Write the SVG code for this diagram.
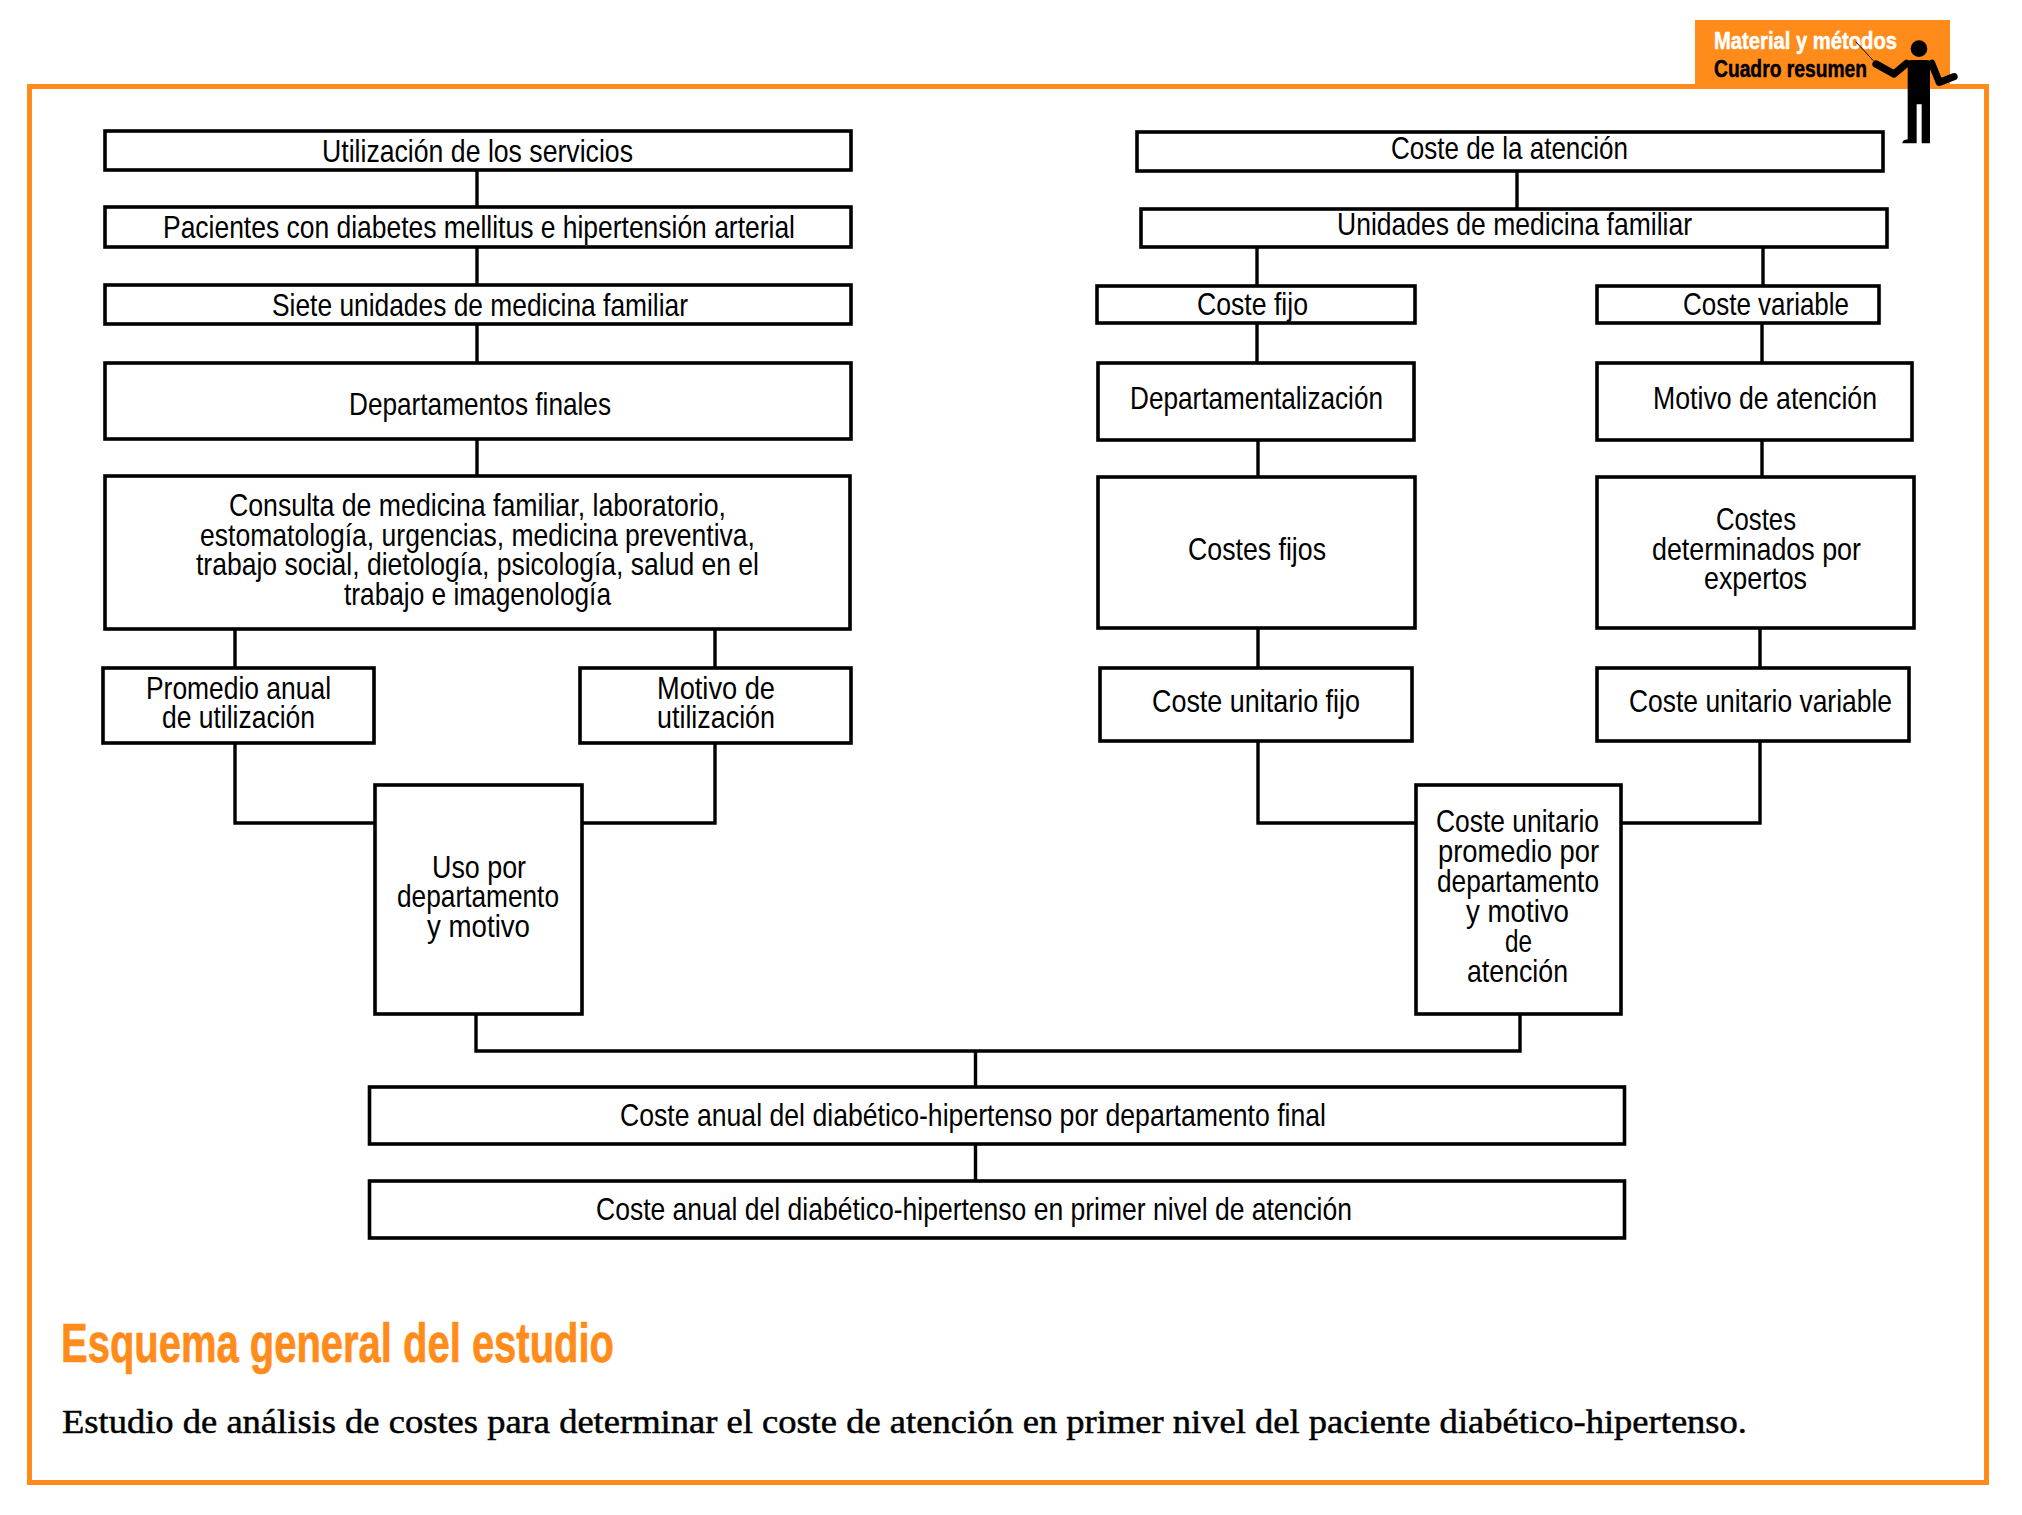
<svg xmlns="http://www.w3.org/2000/svg" width="2022" height="1515" viewBox="0 0 2022 1515">
<style>
.b{fill:#fff;stroke:#000;stroke-width:3.6}
.c{fill:none;stroke:#000;stroke-width:3.4}
.t{font-family:"Liberation Sans Narrow","Liberation Sans",Arial,sans-serif;font-size:31.5px;fill:#000;transform:translateY(1px)}
.h{font-family:"Liberation Sans Narrow","Liberation Sans",Arial,sans-serif;font-weight:bold;font-size:24px;stroke-width:.5px}
</style>
<rect width="2022" height="1515" fill="#fff"/>
<g id="banner"><rect x="1695" y="20" width="255" height="68" fill="#ff8c1a"/>
<text class="h" x="1714" y="49" textLength="183" lengthAdjust="spacingAndGlyphs" fill="#fff" stroke="#fff">Material y métodos</text>
<text class="h" x="1714" y="77" textLength="153" lengthAdjust="spacingAndGlyphs" fill="#000" stroke="#000">Cuadro resumen</text></g>
<rect id="frame" x="29.5" y="86.5" width="1957" height="1396" fill="none" stroke="#ff8c1a" stroke-width="5"/>
<g id="figure" transform="translate(1650 0) scale(.33333)">
<circle cx="807" cy="146" r="25"/>
<path d="M617 125L670 182" stroke="#000" stroke-width="3" fill="none"/>
<path d="M678 192L732 222L770 190" stroke="#000" stroke-width="22" stroke-linecap="round" stroke-linejoin="round" fill="none"/>
<path d="M845 190L868 247L912 230" stroke="#000" stroke-width="22" stroke-linecap="round" stroke-linejoin="round" fill="none"/>
<path d="M773 190Q773 180 785 180H830Q840 180 840 190V430H815V313H800V430H757Q757 419 773 418Z"/>
</g>
<g id="connectors">
<path class="c" d="M477 171V206M477 248V284M477 325V362M477 440V475M235 630V667M715 630V667M235 744V823H375M715 744V823H582M476 1015V1051H1520V1015M975.5 1051V1086M975.5 1145V1180"/>
<path class="c" d="M1517 172V208M1257 248V285M1763 248V285M1257 324V362M1762 324V362M1258 441V476M1762 441V476M1258 629V667M1760 629V667M1258 742V823H1415M1760 742V823H1622"/>
</g>
<g id="n1"><rect class="b" x="105" y="131" width="746" height="39"/><text class="t" x="322" y="161" textLength="311" lengthAdjust="spacingAndGlyphs">Utilización de los servicios</text></g>
<g id="n2"><rect class="b" x="105" y="207" width="746" height="40"/><text class="t" x="163" y="237" textLength="632" lengthAdjust="spacingAndGlyphs">Pacientes con diabetes mellitus e hipertensión arterial</text></g>
<g id="n3"><rect class="b" x="105" y="285" width="746" height="39"/><text class="t" x="272" y="315" textLength="416" lengthAdjust="spacingAndGlyphs">Siete unidades de medicina familiar</text></g>
<g id="n4"><rect class="b" x="105" y="363" width="746" height="76"/><text class="t" x="349" y="414" textLength="262" lengthAdjust="spacingAndGlyphs">Departamentos finales</text></g>
<g id="n5"><rect class="b" x="105" y="476" width="745" height="153"/>
<text class="t" x="229" y="515" textLength="497" lengthAdjust="spacingAndGlyphs">Consulta de medicina familiar, laboratorio,</text>
<text class="t" x="200" y="545" textLength="555" lengthAdjust="spacingAndGlyphs">estomatología, urgencias, medicina preventiva,</text>
<text class="t" x="196" y="574" textLength="563" lengthAdjust="spacingAndGlyphs">trabajo social, dietología, psicología, salud en el</text>
<text class="t" x="344" y="604" textLength="267" lengthAdjust="spacingAndGlyphs">trabajo e imagenología</text></g>
<g id="n6"><rect class="b" x="103" y="668" width="271" height="75"/>
<text class="t" x="146" y="698" textLength="185" lengthAdjust="spacingAndGlyphs">Promedio anual</text>
<text class="t" x="162" y="727" textLength="153" lengthAdjust="spacingAndGlyphs">de utilización</text></g>
<g id="n7"><rect class="b" x="580" y="668" width="271" height="75"/>
<text class="t" x="657" y="698" textLength="118" lengthAdjust="spacingAndGlyphs">Motivo de</text>
<text class="t" x="657" y="727" textLength="118" lengthAdjust="spacingAndGlyphs">utilización</text></g>
<g id="n8"><rect class="b" x="375" y="785" width="207" height="229"/>
<text class="t" x="432" y="877" textLength="94" lengthAdjust="spacingAndGlyphs">Uso por</text>
<text class="t" x="397" y="906" textLength="162" lengthAdjust="spacingAndGlyphs">departamento</text>
<text class="t" x="427" y="936" textLength="103" lengthAdjust="spacingAndGlyphs">y motivo</text></g>
<g id="n9"><rect class="b" x="1137" y="132" width="746" height="39"/><text class="t" x="1391" y="158" textLength="237" lengthAdjust="spacingAndGlyphs">Coste de la atención</text></g>
<g id="n10"><rect class="b" x="1141" y="209" width="746" height="38"/><text class="t" x="1337" y="234" textLength="355" lengthAdjust="spacingAndGlyphs">Unidades de medicina familiar</text></g>
<g id="n11"><rect class="b" x="1097" y="286" width="318" height="37"/><text class="t" x="1197" y="314" textLength="111" lengthAdjust="spacingAndGlyphs">Coste fijo</text></g>
<g id="n12"><rect class="b" x="1597" y="286" width="282" height="37"/><text class="t" x="1683" y="314" textLength="166" lengthAdjust="spacingAndGlyphs">Coste variable</text></g>
<g id="n13"><rect class="b" x="1098" y="363" width="316" height="77"/><text class="t" x="1130" y="408" textLength="253" lengthAdjust="spacingAndGlyphs">Departamentalización</text></g>
<g id="n14"><rect class="b" x="1597" y="363" width="315" height="77"/><text class="t" x="1653" y="408" textLength="224" lengthAdjust="spacingAndGlyphs">Motivo de atención</text></g>
<g id="n15"><rect class="b" x="1098" y="477" width="317" height="151"/><text class="t" x="1188" y="559" textLength="138" lengthAdjust="spacingAndGlyphs">Costes fijos</text></g>
<g id="n16"><rect class="b" x="1597" y="477" width="317" height="151"/>
<text class="t" x="1716" y="529" textLength="80" lengthAdjust="spacingAndGlyphs">Costes</text>
<text class="t" x="1652" y="559" textLength="209" lengthAdjust="spacingAndGlyphs">determinados por</text>
<text class="t" x="1704" y="588" textLength="103" lengthAdjust="spacingAndGlyphs">expertos</text></g>
<g id="n17"><rect class="b" x="1100" y="668" width="312" height="73"/><text class="t" x="1152" y="711" textLength="208" lengthAdjust="spacingAndGlyphs">Coste unitario fijo</text></g>
<g id="n18"><rect class="b" x="1597" y="668" width="312" height="73"/><text class="t" x="1629" y="711" textLength="263" lengthAdjust="spacingAndGlyphs">Coste unitario variable</text></g>
<g id="n19"><rect class="b" x="1416" y="785" width="205" height="229"/>
<text class="t" x="1436" y="831" textLength="163" lengthAdjust="spacingAndGlyphs">Coste unitario</text>
<text class="t" x="1438" y="861" textLength="161" lengthAdjust="spacingAndGlyphs">promedio por</text>
<text class="t" x="1437" y="891" textLength="162" lengthAdjust="spacingAndGlyphs">departamento</text>
<text class="t" x="1466" y="921" textLength="103" lengthAdjust="spacingAndGlyphs">y motivo</text>
<text class="t" x="1505" y="951" textLength="27" lengthAdjust="spacingAndGlyphs">de</text>
<text class="t" x="1467" y="981" textLength="101" lengthAdjust="spacingAndGlyphs">atención</text></g>
<g id="n20"><rect class="b" x="369.500" y="1087" width="1255" height="57"/><text class="t" x="620" y="1125" textLength="706" lengthAdjust="spacingAndGlyphs">Coste anual del diabético-hipertenso por departamento final</text></g>
<g id="n21"><rect class="b" x="369.500" y="1181" width="1255" height="57"/><text class="t" x="596" y="1219" textLength="756" lengthAdjust="spacingAndGlyphs">Coste anual del diabético-hipertenso en primer nivel de atención</text></g>
<text id="title" x="61" y="1362" font-family="'Liberation Sans Narrow','Liberation Sans',Arial,sans-serif" font-weight="bold" font-size="56" fill="#ff8c1a" stroke="#ff8c1a" stroke-width=".7" textLength="553" lengthAdjust="spacingAndGlyphs">Esquema general del estudio</text>
<text id="subtitle" x="62" y="1433" font-family="'Liberation Serif','Times New Roman',serif" font-size="34" fill="#000" stroke="#000" stroke-width=".5" textLength="1685" lengthAdjust="spacingAndGlyphs">Estudio de análisis de costes para determinar el coste de atención en primer nivel del paciente diabético-hipertenso.</text>
</svg>
